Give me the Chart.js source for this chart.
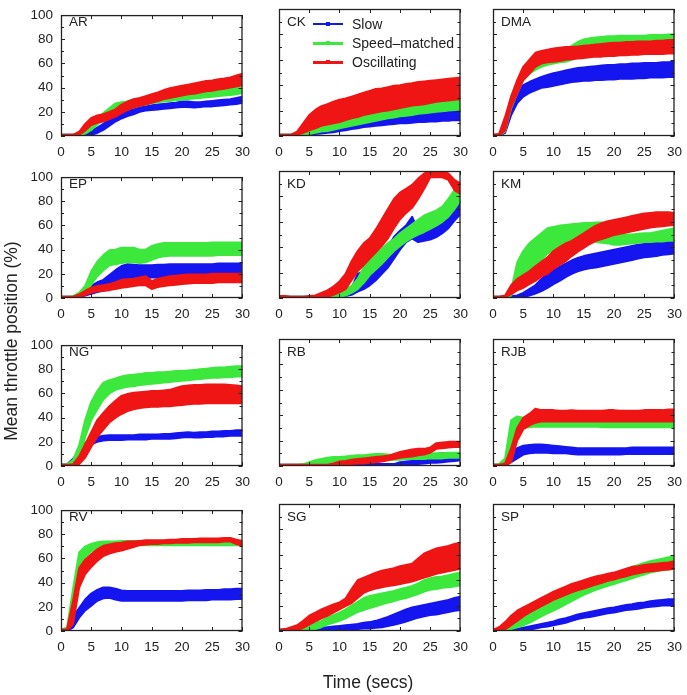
<!DOCTYPE html>
<html lang="en">

<head>
    <meta charset="UTF-8">
    <title>Mean throttle position</title>
    <script src="https://cdn.jsdelivr.net/npm/chart.js"></script>
    <style>
        body { margin: 0; background: #fff; }
        #wrap {
            position: relative; width: 687px; height: 695px; overflow: hidden;
            font-family: 'Liberation Sans', Arial, Helvetica, sans-serif; color: #222;
        }
        #wrap canvas { position: absolute; }
        .txt { position: absolute; white-space: nowrap; }
        .panelName { font-size: 13.5px; line-height: 16px; }
        .legText { font-size: 14px; line-height: 16px; }
        .axisTitle { font-size: 17.5px; text-align: center; }
    </style>
</head>

<body>
    <div id="wrap"></div>

    <script>
        // time axis (secs) shared by every panel
        const times = [0, 1, 2, 3, 4, 5, 6, 7, 8, 9, 10, 11, 12, 13, 14, 15, 16, 17, 18, 19, 20, 21, 22, 23, 24, 25, 26, 27, 28, 29, 30];
        const xTickValues = [0, 5, 10, 15, 20, 25, 30];
        const yTickValues = [0, 20, 40, 60, 80, 100];
        const yMinorValues = [10, 30, 50, 70, 90];

        const seriesNames = ['Slow', 'Speed\u2013matched', 'Oscillating'];
        const seriesColors = ['#1515f0', '#3de83d', '#f01515'];
        const panelNames = ['AR', 'CK', 'DMA', 'EP', 'KD', 'KM', 'NG', 'RB', 'RJB', 'RV', 'SG', 'SP'];

        // band edges (lower / upper), one value per second 0..30
        const AR_slow_lo = [0, 0, 0, 0, 0.5, 1, 2.5, 5, 8.5, 12, 14.5, 16.5, 18, 20, 21, 21.5, 22, 22.5, 23, 23.5, 24, 24, 23.5, 24, 24.5, 24.5, 25, 25.5, 26, 26.5, 27.5];
        const AR_slow_hi = [1, 1, 1, 1.5, 3, 4.5, 7, 10, 14, 16.5, 18.5, 20.5, 22.5, 24, 24.5, 25.5, 26, 26.5, 27, 27.5, 28.5, 28.5, 28, 28, 28.5, 29, 29.5, 30, 30.5, 31.5, 32.5];
        const AR_speed_lo = [0, 0, 0, 0.5, 2, 5, 9.5, 14, 18, 21, 22.5, 23, 23.5, 25, 26, 27, 28, 28.5, 29, 29.5, 30, 30.5, 31, 31.5, 32, 32.5, 33, 33.5, 34, 34.5, 35.5];
        const AR_speed_hi = [1, 1, 1, 2.5, 6, 10, 14.5, 19, 23, 27, 28, 28.5, 29.5, 31, 32, 33, 34, 34.5, 35, 35.5, 36, 36, 36.5, 37, 37, 37.5, 38, 38.5, 39, 39.5, 40];
        const AR_osc_lo = [0, 0, 0, 1, 4.5, 9, 11, 12, 14, 16, 19, 21.5, 23.5, 25, 26, 27.5, 29, 30.5, 31.5, 32.5, 33.5, 34.5, 35, 36, 37, 37.5, 38.5, 39, 40, 41, 42];
        const AR_osc_hi = [1, 1, 1, 3.5, 10, 15, 17, 18, 20, 22, 26, 28.5, 30.5, 31.5, 33, 34.5, 36, 38, 39.5, 40.5, 41.5, 42.5, 43.5, 44.5, 45.5, 46, 47, 47.5, 48.5, 50, 51.5];

        const CK_slow_lo = [0, 0, 0, 0, 0, 0.5, 1.5, 2, 2.5, 3, 4, 4.5, 5.5, 6, 7, 7.5, 8, 8.5, 9, 9.5, 10, 10, 10.5, 11, 11, 11.5, 11.5, 12, 12, 12.5, 12.5];
        const CK_slow_hi = [1, 1, 1, 1, 1.5, 2.5, 4, 5, 6, 7, 8, 9.5, 10.5, 11.5, 12, 13, 14, 14.5, 15, 15.5, 16, 16.5, 17, 17.5, 18, 18, 18.5, 18.5, 19, 19.5, 19.5];
        const CK_speed_lo = [0, 0, 0, 0, 0.5, 1.5, 2.5, 3.5, 4, 5, 6, 7, 8, 9, 10, 11, 12, 13, 14, 14.5, 15.5, 16, 16.5, 17.5, 18, 18.5, 19, 19.5, 20, 20.5, 21];
        const CK_speed_hi = [1, 1, 1, 1.5, 3, 5, 6, 7.5, 9, 10, 11, 13, 14.5, 16, 18, 19, 20, 21, 22, 23, 23.5, 24.5, 25, 26, 27, 27.5, 28.5, 29, 29.5, 30, 30.5];
        const CK_osc_lo = [0, 0, 0, 1, 2.5, 4.5, 6, 8, 9, 10, 11, 12.5, 14, 15, 16.5, 17.5, 18.5, 19.5, 20, 21, 22, 23, 24, 24.5, 25, 26, 27, 27.5, 28, 28.5, 29];
        const CK_osc_hi = [1, 1, 1, 3.5, 10, 16.5, 20.5, 23.5, 25, 27, 28.5, 29.5, 31, 32.5, 34, 35.5, 37, 37.5, 38.5, 39.5, 40, 41, 41.5, 42.5, 43, 43.5, 44, 44.5, 45, 45.5, 46];

        const DMA_slow_lo = [0, 0, 2.5, 16.5, 26, 31, 34, 36, 38, 38.5, 39.5, 40.5, 41.5, 42.5, 43, 43.5, 43.5, 44, 44, 44.5, 44.5, 45, 45, 45, 45.5, 45.5, 46, 46, 46, 46.5, 46.5];
        const DMA_slow_hi = [1, 1, 9, 27, 35, 40, 42.5, 44.5, 46.5, 48, 49.5, 50.5, 51.5, 52.5, 53.5, 54, 54.5, 55, 55.5, 56, 56, 56.5, 56.5, 57, 57, 57.5, 57.5, 57.5, 58, 58, 58.5];
        const DMA_speed_lo = [0, 0, 3.5, 22, 33.5, 44, 49, 52, 54.5, 56, 57, 58, 58.5, 60, 62.5, 64, 65, 66, 66.5, 67, 67, 67.5, 68, 68, 68, 68.5, 68.5, 68.5, 69, 69, 69];
        const DMA_speed_hi = [1, 1, 12.5, 31, 43, 53, 58.5, 62.5, 65, 65.5, 66, 67.5, 69, 71, 74, 76, 77, 77.5, 78, 78.5, 78.5, 79, 79, 79, 79, 79, 79.5, 79.5, 79.5, 80, 80];
        const DMA_osc_lo = [0, 0, 4.5, 23, 33.5, 44, 49, 54.5, 57, 58, 58.5, 59, 60, 60.5, 61, 61.5, 62, 62.5, 62.5, 63, 63, 63.5, 63.5, 64, 64, 64.5, 64.5, 64.5, 64.5, 65, 65];
        const DMA_osc_hi = [1, 1.5, 15, 31, 44, 54.5, 60, 65.5, 67, 68, 69, 69.5, 70, 70, 70.5, 71, 71.5, 72, 72.5, 73, 73.5, 73.5, 74, 74, 74.5, 74.5, 74.5, 75, 75, 75.5, 75.5];

        const EP_slow_lo = [0, 0, 0, 1, 2, 3.5, 5, 6, 7, 10, 12.5, 15, 16.5, 16.5, 16.5, 17, 17, 17, 17, 17.5, 17.5, 17.5, 17.5, 17.5, 17.5, 17.5, 18, 18, 18, 18, 18];
        const EP_slow_hi = [1, 1, 1, 3, 6, 10, 13, 15, 19, 23, 26.5, 28, 27.5, 27, 27, 27, 27.5, 27.5, 28, 28, 28, 28, 28, 28, 28, 28, 28.5, 28.5, 28.5, 28.5, 28.5];
        const EP_speed_lo = [0, 0, 0.5, 1.5, 4.5, 11, 18, 23, 27, 28, 29, 29.5, 29.5, 29, 29.5, 31.5, 33.5, 34.5, 35, 35, 35, 35, 35, 35, 35, 35, 35.5, 35.5, 35.5, 35.5, 35.5];
        const EP_speed_hi = [1, 1, 1.5, 4.5, 10, 22, 30, 35.5, 39.5, 40, 41.5, 41.5, 41.5, 40, 40, 43, 44.5, 45.5, 45.5, 45.5, 45.5, 45.5, 45.5, 45.5, 45.5, 46, 46, 46, 46, 46, 46];
        const EP_osc_lo = [0, 0, 0, 1, 2.5, 4.5, 5.5, 6, 6.5, 7.5, 8.5, 9, 10, 10.5, 10.5, 7.5, 9, 10, 10.5, 11, 11.5, 12, 12.5, 12.5, 12.5, 12.5, 13, 13, 13, 13, 13];
        const EP_osc_hi = [1, 1, 1, 3, 6, 8.5, 10, 10.5, 11.5, 13, 15, 15.5, 16, 17, 18, 14, 16, 17, 18, 18.5, 19, 19.5, 19.5, 19.5, 19.5, 20, 20, 20, 20, 20, 20];

        const KD_slow_lo = [0, 0, 0, 0, 0, 0, 0, 0, 0, 0.5, 1, 1.5, 2.5, 5, 7, 10, 14, 19, 24, 31, 38, 44, 47, 44, 45, 46, 48, 51, 55, 61, 66];
        const KD_slow_hi = [1, 1, 1, 1, 1, 1, 1, 1, 1.5, 2.5, 4, 6, 8, 19, 21, 23, 27, 33, 40, 48, 53, 57, 64, 53, 54, 55, 57, 60, 64, 70, 76];
        const KD_speed_lo = [0, 0, 0, 0, 0, 0, 0, 0, 0, 0.3, 0.8, 2, 4, 7, 12, 18, 22.5, 27, 32, 37, 41, 44.5, 47.5, 50, 52, 54.5, 57, 60, 64, 70, 77];
        const KD_speed_hi = [1, 1, 1, 1, 1, 1, 1.5, 2, 2.5, 3.5, 4.5, 7, 9.5, 15, 24, 31, 35, 39, 43, 46.5, 51, 54.5, 58, 61.5, 65, 67, 69, 72, 78, 85, 91];
        const KD_osc_lo = [0, 0, 0, 0, 0, 0, 0, 0.5, 1, 2.5, 4.5, 7, 14, 21, 26, 31, 36, 41, 47, 55, 62, 67, 71, 78, 86, 95, 95, 95, 93, 85, 82];
        const KD_osc_hi = [1.5, 1.5, 1, 1, 1, 1.5, 2, 4, 6, 9, 13, 19, 29, 37, 43, 47, 54, 62, 70, 78, 83, 86, 89, 94, 98, 100, 100, 100, 98, 93, 90];

        const KM_slow_lo = [0, 0, 0, 0, 0, 0.5, 2, 3.5, 5.5, 8, 11, 13.5, 16.5, 19, 21, 22.5, 23.5, 24, 25, 26, 27, 28, 29, 30, 31, 32, 32.5, 33, 34, 34.5, 35];
        const KM_slow_hi = [1, 1, 1, 1.5, 2, 4, 7, 10, 15, 19.5, 22, 24.5, 27, 29.5, 31.5, 33, 34, 35, 36, 37, 38, 39, 40, 41, 42, 42.5, 43, 44, 44.5, 45, 45.5];
        const KM_speed_lo = [0, 0, 0, 2, 10, 18, 22, 25, 30, 35, 38, 40, 42, 43, 44, 44.5, 44.5, 44, 43.5, 43, 42, 42, 42.5, 43, 43.5, 44, 44, 44.5, 44.5, 45, 45];
        const KM_speed_hi = [1, 1, 1, 6, 28, 37, 43, 47, 51, 55, 56, 57, 57.5, 58, 58.5, 59, 59, 59.5, 59.5, 58, 54, 51, 50, 50, 50.5, 51, 51, 52, 53, 54, 55];
        const KM_osc_lo = [0, 0, 0.5, 3, 6, 8, 11, 13.5, 17, 19, 23, 26, 29, 33, 36.5, 39.5, 42.5, 45, 46.5, 48, 49.5, 50.5, 51.5, 52.5, 53.5, 54.5, 55.5, 56, 56.5, 57, 57.5];
        const KM_osc_hi = [1, 1, 2, 10, 15, 18, 21, 25, 28.5, 32, 37, 40, 43, 45, 48, 51, 54, 57, 59, 60.5, 61.5, 62.5, 63.5, 64.5, 65.5, 66.5, 67, 67.5, 67.5, 67.5, 67];

        const NG_slow_lo = [0, 0, 1.5, 7.5, 14, 18, 20, 21, 21.5, 21.5, 21.5, 22, 22, 22, 22, 22.5, 22.5, 22.5, 22.5, 23, 23.5, 24, 23.5, 23.5, 24, 24, 24.5, 24.5, 25, 25, 25];
        const NG_slow_hi = [1, 1.5, 6, 12, 19, 22.5, 24, 25, 25.5, 25.5, 25.5, 25.5, 25.5, 26, 26, 26, 26, 26.5, 26.5, 27, 27.5, 28, 27.5, 28, 28, 28.5, 28.5, 29, 29, 29.5, 29.5];
        const NG_speed_lo = [0, 0, 0.5, 5, 24, 38, 47, 55, 60, 63, 64.5, 65.5, 66, 67, 67.5, 68, 68.5, 69, 69.5, 70, 70.5, 71, 71.5, 72, 72.5, 73, 73, 73.5, 73.5, 74, 74];
        const NG_speed_hi = [1, 1.5, 5, 17, 38, 53, 62, 69, 71, 72.5, 74, 75, 75.5, 76, 77, 77, 77.5, 77.5, 78, 78.5, 78.5, 79, 79.5, 80, 80.5, 81, 81.5, 81.5, 82, 82.5, 82.5];
        const NG_osc_lo = [0, 0, 0, 1.5, 7, 16, 24, 30, 36, 40, 43, 45.5, 47, 48, 48.5, 49, 49, 49.5, 49.5, 50, 50.5, 51, 51.5, 51.5, 52, 52, 52, 52, 52, 52, 52];
        const NG_osc_hi = [1, 1, 1.5, 8, 18, 28, 38, 44, 49.5, 54, 58, 59.5, 60.5, 61, 61.5, 62, 62, 62.5, 63, 64.5, 66, 66.5, 67, 67, 67.5, 67.5, 67.5, 67.5, 67, 66.5, 66];

        const RB_slow_lo = [0, 0, 0, 0, 0, 0, 0, 0, 0, 0, 0, 0, 0, 0, 0, 0, 0, 0, 0, 0, 0, 0.5, 1, 1.5, 2, 2.5, 2.5, 3, 3.5, 4, 4.5];
        const RB_slow_hi = [1, 1, 1, 1, 1, 1, 1, 1, 1, 1.5, 1.5, 1.5, 1.5, 1.5, 1.5, 1.5, 1.5, 1.5, 1.5, 1.5, 3, 3.5, 4, 4.5, 5.5, 7, 9.5, 10, 10, 8.5, 9];
        const RB_speed_lo = [0, 0, 0, 0, 0, 0.3, 1, 1.5, 2, 2.5, 3, 3.5, 4, 4.5, 4.5, 4.5, 5, 5, 5, 5, 5, 5.5, 5.5, 5.5, 5.5, 6, 6, 6, 6.5, 6.5, 6.5];
        const RB_speed_hi = [1, 1, 1, 1, 1.5, 3, 4.5, 5.5, 6.5, 7, 7, 7.5, 8, 8.5, 8.5, 9, 9.5, 9.5, 9, 8.5, 9, 9.5, 9.5, 9.5, 10, 10, 10, 10, 10.5, 10.5, 10.5];
        const RB_osc_lo = [0, 0, 0, 0, 0, 0, 0, 0, 0, 0, 0.5, 1, 1.5, 2, 2, 2.5, 3, 3.5, 4.5, 5.5, 6.5, 7, 7.5, 8.5, 9, 10.5, 13.5, 14, 14.5, 15, 15];
        const RB_osc_hi = [1, 1, 1, 1, 1, 1, 1, 1, 1, 2, 3.5, 4, 5, 5.5, 6, 6.5, 7, 7.5, 8, 9.5, 11, 12, 13, 13.5, 13.5, 14.5, 18, 18.5, 19, 19, 19];

        const RJB_slow_lo = [0, 0, 0.5, 3, 6, 9, 10, 10.5, 10.5, 10.5, 10, 10, 10, 9.5, 9, 9, 9, 9, 9, 9, 9, 9, 9.5, 9.5, 9.5, 9.5, 9.5, 9.5, 9.5, 9.5, 9.5];
        const RJB_slow_hi = [1, 1, 2, 10, 14, 16, 16.5, 17, 17, 16.5, 16, 15.5, 15, 14.5, 14, 14, 14, 14, 14, 14, 14, 14, 14, 14.5, 14.5, 14.5, 14.5, 14.5, 14.5, 14.5, 14.5];
        const RJB_speed_lo = [0, 0, 0.5, 14, 28, 30, 30.5, 31, 31, 31, 31, 31, 31, 31, 31, 31, 31, 31, 30.5, 30.5, 30.5, 30.5, 30.5, 30.5, 30.5, 30.5, 30.5, 30.5, 30.5, 30.5, 30.5];
        const RJB_speed_hi = [1, 1.5, 6, 36, 39, 38, 37, 36.5, 36, 36, 36, 36, 36, 36, 36, 36, 36, 36, 36, 36, 36, 36, 36, 36, 36, 36, 36, 36, 36, 36, 36];
        const RJB_osc_lo = [0, 0, 0, 3, 20, 29, 32, 34, 35, 35, 35, 35, 35, 35, 35, 35, 35, 35, 35, 35, 35, 35, 35, 35, 35, 35, 35, 35, 35, 35, 35];
        const RJB_osc_hi = [1, 1, 2, 14, 30, 38, 41, 45, 44, 44, 44, 43.5, 43.5, 44, 43.5, 43.5, 43.5, 43.5, 43.5, 44, 44, 43.5, 43.5, 43.5, 43.5, 44, 44, 44, 44, 44.5, 44.5];

        const RV_slow_lo = [0, 0, 3, 11, 17, 21, 25, 27, 27.5, 26, 25, 25, 25, 25, 25, 25, 25, 25, 25, 25, 25, 25.5, 25.5, 25.5, 25.5, 26, 26, 26, 26, 26.5, 26.5];
        const RV_slow_hi = [1, 1, 12, 19, 26, 31, 34, 36, 36, 35, 33.5, 33, 33, 33, 33, 33, 33, 33, 33, 33, 33, 33.5, 33.5, 33.5, 34, 34, 34, 34.5, 34.5, 35, 35];
        const RV_speed_lo = [0, 0, 20, 52, 61, 66, 68, 69.5, 70, 70.5, 70.5, 71, 71, 71, 71, 71, 71, 71, 71, 71, 71, 71, 71, 71, 71, 71, 71, 71, 71, 71, 71];
        const RV_speed_hi = [1, 3, 35, 65, 70, 72, 73.5, 74, 74, 74, 74.5, 74.5, 74.5, 74.5, 74.5, 74.5, 74.5, 74.5, 74, 74, 74, 74, 74, 74, 74, 73.5, 73.5, 73.5, 73.5, 73.5, 73.5];
        const RV_osc_lo = [0, 0, 6, 36, 47, 53, 58, 62, 64, 65.5, 66.5, 68, 69.5, 71, 71.5, 72, 72, 72.5, 72.5, 73, 73, 73, 73.5, 73.5, 73.5, 73.5, 73.5, 74, 74, 72, 70.5];
        const RV_osc_hi = [1, 1.5, 25, 52, 59, 63.5, 67.5, 70.5, 71.5, 72.5, 73, 74, 74, 74.5, 75, 75, 75, 75, 75.5, 75.5, 76, 76, 76, 76.5, 76.5, 76.5, 76.5, 77, 77, 75.5, 74.5];

        const SG_slow_lo = [0, 0, 0, 0, 0, 0, 0, 0, 0, 0.5, 0.5, 1, 1.5, 1.5, 2, 2, 2.5, 3, 4, 5, 6, 7.5, 9, 10.5, 11.5, 12.5, 13, 14, 15, 16, 16.5];
        const SG_slow_hi = [1, 1, 1, 1, 1, 1.5, 2, 2.5, 3, 3.5, 4, 4.5, 5, 5.5, 6.5, 7, 8, 9.5, 11, 13, 15, 17, 18.5, 19.5, 20.5, 21.5, 22.5, 23.5, 24.5, 26, 27];
        const SG_speed_lo = [0, 0, 0, 0, 0, 0.5, 1.5, 3, 5, 6.5, 8, 10, 12.5, 15, 16.5, 18, 19.5, 21, 22.5, 23.5, 25, 26, 27.5, 29, 31, 32.5, 33, 34, 34.5, 35, 36];
        const SG_speed_hi = [1, 1, 1, 1.5, 2.5, 4.5, 6.5, 8, 10.5, 12.5, 14.5, 17, 20, 23, 26, 27.5, 28.5, 29.5, 30.5, 31.5, 33, 34, 35.5, 37.5, 40, 41.5, 42.5, 43, 44, 45, 46];
        const SG_osc_lo = [0, 0, 0, 0.5, 2.5, 5, 7.5, 10, 12, 14.5, 17, 19.5, 22, 26, 30, 32, 33.5, 34.5, 35.5, 36, 37, 38, 39, 40.5, 42, 43.5, 45, 46, 47, 48, 49];
        const SG_osc_hi = [1, 1.5, 3, 4.5, 8, 12, 14.5, 17, 19, 21, 22.5, 25.5, 33, 40, 42, 44, 46, 47.5, 48.5, 49.5, 51, 52, 53, 57, 61, 63, 65, 66, 67, 68.5, 69.5];

        const SP_slow_lo = [0, 0, 0, 0, 0, 0.5, 1, 2, 3, 3.5, 4.5, 5.5, 6.5, 8, 9.5, 10.5, 11, 12, 13, 14, 14.5, 15.5, 16.5, 17, 17.5, 18.5, 19, 19.5, 20, 20, 20.5];
        const SP_slow_hi = [1, 1, 1, 1, 1.5, 2.5, 3.5, 4.5, 5.5, 6.5, 7.5, 9, 10, 11.5, 13, 14, 15, 16, 17, 18, 18.5, 19.5, 20.5, 21, 22, 22.5, 23.5, 24, 24.5, 25, 25];
        const SP_speed_lo = [0, 0, 0, 1.5, 3, 4.5, 6.5, 9, 11.5, 14, 16, 18.5, 21, 23.5, 26, 28.5, 30.5, 32.5, 34, 35.5, 37, 38.5, 40, 41.5, 43, 44.5, 46, 47, 48, 48.5, 49];
        const SP_speed_hi = [1, 1, 2.5, 5, 7.5, 10, 13, 16, 18.5, 20.5, 23, 26, 29, 31.5, 34, 36, 37.5, 39, 41, 43, 45, 47, 48.5, 50.5, 52, 53.5, 55, 56, 57, 58, 58.5];
        const SP_osc_lo = [0, 0, 1.5, 4.5, 8, 11.5, 14.5, 17, 19.5, 22, 24.5, 26.5, 28.5, 30.5, 32, 33.5, 35, 36.5, 38, 39.5, 40.5, 42, 43, 44.5, 45.5, 46.5, 47, 47.5, 48, 48.5, 49];
        const SP_osc_hi = [1, 3, 7, 12, 16, 18.5, 21, 23.5, 26, 28.5, 31, 33, 35, 37, 38.5, 40, 41.5, 43, 44, 45, 46, 47.5, 49, 50.5, 51, 52, 52.5, 53, 53.5, 54, 55];

        const panelBands = {
            AR: [[AR_slow_lo, AR_slow_hi], [AR_speed_lo, AR_speed_hi], [AR_osc_lo, AR_osc_hi]],
            CK: [[CK_slow_lo, CK_slow_hi], [CK_speed_lo, CK_speed_hi], [CK_osc_lo, CK_osc_hi]],
            DMA: [[DMA_slow_lo, DMA_slow_hi], [DMA_speed_lo, DMA_speed_hi], [DMA_osc_lo, DMA_osc_hi]],
            EP: [[EP_slow_lo, EP_slow_hi], [EP_speed_lo, EP_speed_hi], [EP_osc_lo, EP_osc_hi]],
            KD: [[KD_slow_lo, KD_slow_hi], [KD_speed_lo, KD_speed_hi], [KD_osc_lo, KD_osc_hi]],
            KM: [[KM_slow_lo, KM_slow_hi], [KM_speed_lo, KM_speed_hi], [KM_osc_lo, KM_osc_hi]],
            NG: [[NG_slow_lo, NG_slow_hi], [NG_speed_lo, NG_speed_hi], [NG_osc_lo, NG_osc_hi]],
            RB: [[RB_slow_lo, RB_slow_hi], [RB_speed_lo, RB_speed_hi], [RB_osc_lo, RB_osc_hi]],
            RJB: [[RJB_slow_lo, RJB_slow_hi], [RJB_speed_lo, RJB_speed_hi], [RJB_osc_lo, RJB_osc_hi]],
            RV: [[RV_slow_lo, RV_slow_hi], [RV_speed_lo, RV_speed_hi], [RV_osc_lo, RV_osc_hi]],
            SG: [[SG_slow_lo, SG_slow_hi], [SG_speed_lo, SG_speed_hi], [SG_osc_lo, SG_osc_hi]],
            SP: [[SP_slow_lo, SP_slow_hi], [SP_speed_lo, SP_speed_hi], [SP_osc_lo, SP_osc_hi]]
        };

        // page layout: where each plot box sits
        const plotLeft = [61, 279, 493];
        const plotTop = [9, 171, 339, 504];
        const PLOT_W = 185, PLOT_H = 127;
        const M_L = 45, M_T = 10, M_R = 12, M_B = 26;
        const FONT = "'Liberation Sans', Arial, Helvetica, sans-serif";

        const wrap = document.getElementById('wrap');

        function addText(cls, text, left, top) {
            const d = document.createElement('div');
            d.className = 'txt ' + cls;
            d.textContent = text;
            d.style.left = left + 'px';
            d.style.top = top + 'px';
            wrap.appendChild(d);
            return d;
        }

        // box round the plot area plus inward ticks on all four sides
        const frameTicks = {
            id: 'frameTicks',
            afterDatasetsDraw(chart) {
                const { ctx, chartArea: a, scales: { x, y } } = chart;
                ctx.save();
                ctx.strokeStyle = '#222';
                ctx.lineWidth = 1;
                ctx.beginPath();
                xTickValues.forEach(v => {
                    const px = Math.round(x.getPixelForValue(v)) + 0.5;
                    ctx.moveTo(px, a.bottom); ctx.lineTo(px, a.bottom - 4);
                    ctx.moveTo(px, a.top); ctx.lineTo(px, a.top + 4);
                });
                const yTick = (v, len) => {
                    const py = Math.round(y.getPixelForValue(v)) + 0.5;
                    ctx.moveTo(a.left, py); ctx.lineTo(a.left + len, py);
                    ctx.moveTo(a.right, py); ctx.lineTo(a.right - len, py);
                };
                yTickValues.forEach(v => yTick(v, 4));
                yMinorValues.forEach(v => yTick(v, 3));
                ctx.stroke();
                ctx.lineWidth = 1.3;
                ctx.strokeRect(a.left + 0.5, a.top + 0.5, a.right - a.left - 1, a.bottom - a.top - 1);
                ctx.restore();
            }
        };

        const toPoints = arr => arr.map((v, i) => ({ x: times[i], y: v }));

        panelNames.forEach((name, p) => {
            const col = p % 3, row = Math.floor(p / 3);
            const canvas = document.createElement('canvas');
            canvas.width = M_L + PLOT_W + M_R;
            canvas.height = M_T + PLOT_H + M_B;
            canvas.style.left = (plotLeft[col] - M_L) + 'px';
            canvas.style.top = (plotTop[row] - M_T) + 'px';
            wrap.appendChild(canvas);

            const datasets = [];
            panelBands[name].forEach(([lo, hi], s) => {
                datasets.push({
                    label: seriesNames[s] + ' low', data: toPoints(lo),
                    borderColor: seriesColors[s], borderWidth: 2, pointRadius: 0,
                    borderJoinStyle: 'round', fill: false, order: 3 - s
                });
                datasets.push({
                    label: seriesNames[s], data: toPoints(hi),
                    borderColor: seriesColors[s], backgroundColor: seriesColors[s],
                    borderWidth: 2, pointRadius: 0, borderJoinStyle: 'round',
                    fill: '-1', order: 3 - s
                });
            });

            const tickFont = { family: FONT, size: 13.5 };
            new Chart(canvas, {
                type: 'line',
                data: { datasets },
                options: {
                    responsive: false,
                    animation: false,
                    events: [],
                    layout: { padding: { top: M_T, right: M_R, left: 0, bottom: 0 } },
                    plugins: { legend: { display: false }, tooltip: { enabled: false } },
                    scales: {
                        x: {
                            type: 'linear', min: 0, max: 30,
                            afterBuildTicks: s => { s.ticks = xTickValues.map(v => ({ value: v })); },
                            afterFit: s => { s.height = M_B; },
                            grid: { display: false, drawTicks: false },
                            border: { display: false },
                            ticks: { padding: 8, color: '#222', font: tickFont, maxRotation: 0, autoSkip: false }
                        },
                        y: {
                            type: 'linear', min: 0, max: 100,
                            afterBuildTicks: s => { s.ticks = yTickValues.map(v => ({ value: v })); },
                            afterFit: s => { s.width = M_L; },
                            grid: { display: false, drawTicks: false },
                            border: { display: false },
                            ticks: { display: col === 0, padding: 8, color: '#222', font: tickFont }
                        }
                    }
                },
                plugins: [frameTicks]
            });

            addText('panelName', name, plotLeft[col] + 8, plotTop[row] + 5);
        });

        // legend inside the CK panel
        const legRows = [24, 43, 62];
        seriesNames.forEach((s, i) => {
            const line = document.createElement('div');
            line.style.cssText = `position:absolute;left:313px;top:${legRows[i] - 1}px;width:30px;height:${i === 0 ? 2 : 3}px;background:${seriesColors[i]}`;
            wrap.appendChild(line);
            const dot = document.createElement('div');
            dot.style.cssText = `position:absolute;left:326px;top:${legRows[i] - 2}px;width:4px;height:4px;background:${seriesColors[i]}`;
            wrap.appendChild(dot);
            addText('legText', s, 352, legRows[i] - 8);
        });

        // axis titles
        const xTitle = addText('axisTitle', 'Time (secs)', 268, 672);
        xTitle.style.width = '200px';
        xTitle.style.lineHeight = '20px';
        const yTitle = addText('axisTitle', 'Mean throttle position (%)', 10.5 - 130, 341 - 11);
        yTitle.style.width = '260px';
        yTitle.style.lineHeight = '22px';
        yTitle.style.transform = 'rotate(-90deg)';
    </script>
</body>

</html>
